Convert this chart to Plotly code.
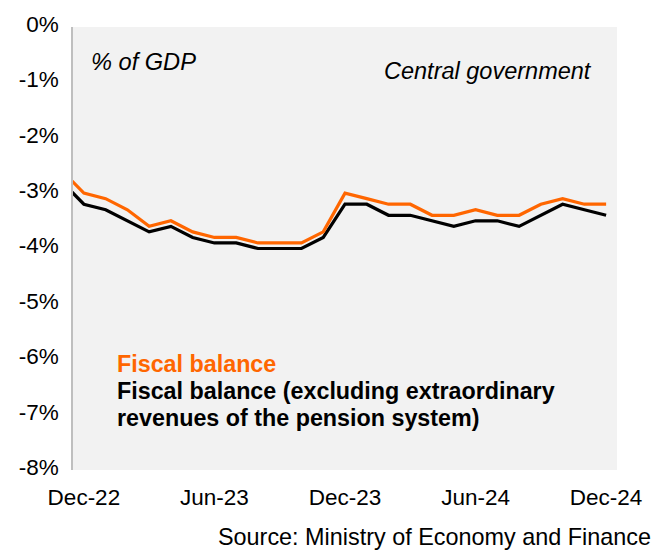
import plotly.graph_objects as go

# Monthly data (index 0 = Dec-22); first value is Nov-22 (clipped at the plot edge)
months = ["Nov-22", "Dec-22", "Jan-23", "Feb-23", "Mar-23", "Apr-23", "May-23", "Jun-23",
          "Jul-23", "Aug-23", "Sep-23", "Oct-23", "Nov-23", "Dec-23", "Jan-24", "Feb-24",
          "Mar-24", "Apr-24", "May-24", "Jun-24", "Jul-24", "Aug-24", "Sep-24", "Oct-24",
          "Nov-24", "Dec-24"]
fiscal_balance = [-2.6, -3.0, -3.1, -3.3, -3.6, -3.5, -3.7, -3.8, -3.8, -3.9, -3.9, -3.9,
                  -3.7, -3.0, -3.1, -3.2, -3.2, -3.4, -3.4, -3.3, -3.4, -3.4, -3.2, -3.1,
                  -3.2, -3.2]
fiscal_balance_excl = [-2.8, -3.2, -3.3, -3.5, -3.7, -3.6, -3.8, -3.9, -3.9, -4.0, -4.0, -4.0,
                       -3.8, -3.2, -3.2, -3.4, -3.4, -3.5, -3.6, -3.5, -3.5, -3.6, -3.4, -3.2,
                       -3.3, -3.4]
x_idx = list(range(-1, len(months) - 1))

x_tick_vals = [0, 6, 12, 18, 24]
x_tick_text = ["Dec-22", "Jun-23", "Dec-23", "Jun-24", "Dec-24"]
y_tick_vals = [0, -1, -2, -3, -4, -5, -6, -7, -8]
y_tick_text = ["0%", "-1%", "-2%", "-3%", "-4%", "-5%", "-6%", "-7%", "-8%"]

ORANGE = "#FF6600"
FONT = "Liberation Sans, Arial, sans-serif"

W, H = 656, 552
ML, MR, MT, MB = 73, 39, 22, 82
PW, PH = W - ML - MR, H - MT - MB


def px(xp):
    return (xp - ML) / PW


def py(yp):
    return (H - MB - yp) / PH


fig = go.Figure()
fig.add_trace(go.Scatter(x=x_idx, y=fiscal_balance_excl, mode="lines",
                         line=dict(color="#000000", width=3.2), hoverinfo="skip",
                         name="Fiscal balance (excluding extraordinary revenues of the pension system)"))
fig.add_trace(go.Scatter(x=x_idx, y=fiscal_balance, mode="lines",
                         line=dict(color=ORANGE, width=3.2), hoverinfo="skip",
                         name="Fiscal balance"))

fig.update_layout(
    width=W, height=H,
    margin=dict(l=ML, r=MR, t=MT, b=MB),
    paper_bgcolor="white",
    plot_bgcolor="#F2F2F2",
    showlegend=False,
    font=dict(family=FONT, size=22.5, color="#000000"),
    xaxis=dict(range=[-0.5, 24.5], tickvals=x_tick_vals, ticktext=x_tick_text,
               showgrid=False, zeroline=False, showline=False, ticks="outside",
               ticklen=7, tickcolor="rgba(0,0,0,0)", tickfont=dict(size=22.5)),
    yaxis=dict(range=[-8, 0], tickvals=y_tick_vals, ticktext=y_tick_text,
               showgrid=False, zeroline=False, showline=True, linecolor="#BFBFBF",
               linewidth=1.5, ticks="outside", ticklen=8, tickcolor="rgba(0,0,0,0)",
               ticklabelshift=-3, tickfont=dict(size=22.5)),
)

def note(text, xpix, ypix, anchor, size=23.4, color="#000000"):
    fig.add_annotation(x=px(xpix), y=py(ypix), xref="paper", yref="paper",
                       xanchor=anchor, yanchor="middle", text=text, showarrow=False,
                       font=dict(size=size, color=color, family=FONT))


note("<i>% of GDP</i>", 89, 57, "left", 23.6)
note("<i>Central government</i>", 594, 66, "right", 23.5)
note("<b>Fiscal balance</b>", 115, 363, "left", 23.3, ORANGE)
note("<b>Fiscal balance (excluding extraordinary</b>", 115, 390, "left", 23.3)
note("<b>revenues of the pension system)</b>", 115, 417, "left", 23.3)
note("Source: Ministry of Economy and Finance", 653, 538, "right", 23.4)

fig.write_html("out.html")
